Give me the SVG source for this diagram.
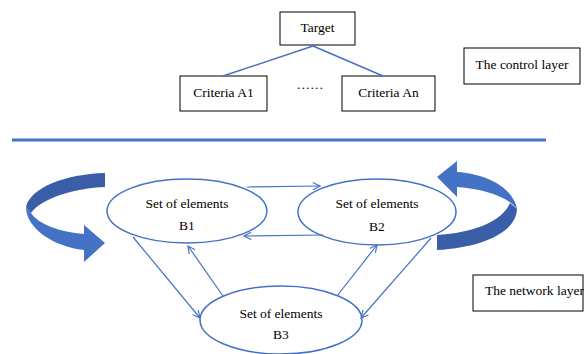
<svg xmlns="http://www.w3.org/2000/svg" width="584" height="354" viewBox="0 0 584 354">
<defs>
<style>
.box{fill:#fff;stroke:#000;stroke-width:1}
.t{font-family:"Liberation Serif","Times New Roman",serif;font-size:13.5px;fill:#000}
.m{text-anchor:middle}
.ell{fill:#fff;stroke:#4472C4;stroke-width:1.5}
.con{fill:none;stroke:#4472C4;stroke-width:1.2}
.tree{fill:none;stroke:#4472C4;stroke-width:1.5}
</style>
<marker id="ah" viewBox="0 0 10 10" refX="9" refY="5" markerWidth="9" markerHeight="9" markerUnits="userSpaceOnUse" orient="auto">
<path d="M1,1 L9,5 L1,9" fill="none" stroke="#4472C4" stroke-width="1.3"/>
</marker>
</defs>
<rect width="584" height="354" fill="#fff"/>

<g id="loop-left">
<path d="M105,173 C65,174 30,188 26,207 L31,213 C42,198 75,188 105,187 Z" fill="#3A5FA8"/>
<path d="M26,207 C26,229 55,247 84,250 L84,262 L105,243 L84,225 L84,234 C60,232 38,224 31,213 Z" fill="#4472C4"/>
</g>
<g id="loop-right">
<path d="M437,177 L457,161 L457,172 C490,174 514,190 517,209 C508,197 485,189 457,187 L457,197 Z" fill="#4472C4"/>
<path d="M517,209 C516,234 478,248 437,250 L437,235 C472,233 502,222 510,203 Z" fill="#3A5FA8"/>
</g>

<g id="target">
<rect class="box" x="280" y="12" width="75" height="33"/>
<text class="t m" x="317.5" y="32">Target</text>
</g>
<g id="criteriaA1">
<rect class="box" x="180" y="76" width="87" height="35"/>
<text class="t m" x="223.5" y="97">Criteria A1</text>
</g>
<g id="dots">
<text class="t m" x="310" y="89">……</text>
</g>
<g id="criteriaAn">
<rect class="box" x="342" y="76" width="93" height="35"/>
<text class="t m" x="388.5" y="97">Criteria An</text>
</g>
<g id="control-layer">
<rect class="box" x="464" y="48" width="116" height="36"/>
<text class="t m" x="522" y="69">The control layer</text>
</g>

<g id="B1">
<ellipse class="ell" cx="187" cy="211" rx="80" ry="32"/>
<text class="t m" x="187" y="208">Set of elements</text>
<text class="t m" x="187" y="230">B1</text>
</g>
<g id="B2">
<ellipse class="ell" cx="377" cy="212" rx="79" ry="33"/>
<text class="t m" x="377" y="208">Set of elements</text>
<text class="t m" x="377" y="231">B2</text>
</g>
<g id="B3">
<ellipse class="ell" cx="281" cy="320" rx="81" ry="34"/>
<text class="t m" x="281" y="318">Set of elements</text>
<text class="t m" x="281" y="339">B3</text>
</g>

<g id="network-layer">
<rect class="box" x="473" y="275" width="110" height="36"/>
<text class="t" x="485" y="295">The network layer</text>
</g>

<g id="connectors">
<path class="tree" d="M313,46 L223,76 M313,46 L383,76"/>
<line x1="12" y1="140" x2="546" y2="140" stroke="#4472C4" stroke-width="3"/>
<path class="con" d="M247,187 L320,186" marker-end="url(#ah)"/>
<path class="con" d="M323,235 L244,236" marker-end="url(#ah)"/>
<path class="con" d="M223,296 L188,246" marker-end="url(#ah)"/>
<path class="con" d="M133,237 L200,318" marker-end="url(#ah)"/>
<path class="con" d="M337,296 L377,245" marker-end="url(#ah)"/>
<path class="con" d="M431,238 L361,318" marker-end="url(#ah)"/>
</g>
</svg>
